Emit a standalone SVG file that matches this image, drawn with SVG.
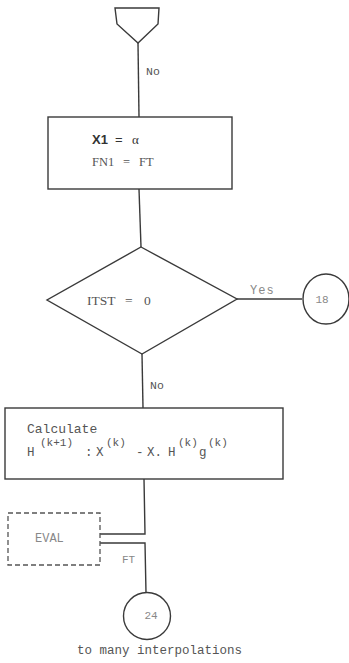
<svg xmlns="http://www.w3.org/2000/svg" width="349" height="663" viewBox="0 0 349 663">
<style>
.s{fill:none;stroke:#3a3a3a;stroke-width:1.4}
.d{fill:none;stroke:#555;stroke-width:1.3;stroke-dasharray:5,3}
.m{font-family:"Liberation Mono",monospace;fill:#555}
.sf{font-family:"Liberation Serif",serif;fill:#555}
.ss{font-family:"Liberation Sans",sans-serif;fill:#333}
.g{fill:#888}
.sup{font-size:11px}
</style>
<rect width="349" height="663" fill="#fff"/>
<g id="connectors">
<line class="s" x1="138" y1="43" x2="139" y2="117"/>
<line class="s" x1="139" y1="189" x2="141" y2="247"/>
<line class="s" x1="237" y1="299" x2="302" y2="299"/>
<line class="s" x1="142" y1="354" x2="143" y2="408"/>
<polyline class="s" points="144,479 145,534 100,534"/>
<polyline class="s" points="100,543 145,543 146,593"/>
<text class="m" x="146" y="75" font-size="11.5">No</text>
<text class="m" x="150" y="389" font-size="11.5">No</text>
<text class="m g" x="250" y="294" font-size="12" letter-spacing="1">Yes</text>
<text class="m g" x="122" y="563" font-size="11">FT</text>
</g>
<g id="start">
<polygon class="s" points="115,8 159,8 158,24 138,43 117,24"/>
</g>
<g id="init">
<rect class="s" x="48" y="117" width="184" height="72"/>
<text class="ss" y="144" font-size="13"><tspan x="92" font-weight="bold">X1</tspan><tspan x="115">=</tspan><tspan x="132" font-family="Liberation Serif">α</tspan></text>
<text class="sf" y="166" font-size="12.5"><tspan x="92">FN1</tspan><tspan x="123">=</tspan><tspan x="139">FT</tspan></text>
</g>
<g id="test">
<polygon class="s" points="141,247 237,299 142,354 47,300"/>
<text class="sf" y="305" font-size="13.5"><tspan x="87">ITST</tspan><tspan x="125">=</tspan><tspan x="144">0</tspan></text>
</g>
<g id="c18">
<ellipse class="s" cx="326" cy="299" rx="23" ry="25"/>
<text class="m g" x="322" y="303" font-size="11" text-anchor="middle">18</text>
</g>
<g id="calc">
<rect class="s" x="5" y="408" width="278" height="71"/>
<text class="m" x="27" y="433" font-size="13">Calculate</text>
<text class="m" font-size="12.5"><tspan x="27" y="456">H</tspan><tspan class="sup" x="40" y="446">(k+1)</tspan><tspan x="85" y="456">:</tspan><tspan x="96" y="456">X</tspan><tspan class="sup" x="106" y="446">(k)</tspan><tspan x="136" y="456">-</tspan><tspan x="147" y="456">X.</tspan><tspan x="168" y="456">H</tspan><tspan class="sup" x="178" y="446">(k)</tspan><tspan x="199" y="456">g</tspan><tspan class="sup" x="208" y="446">(k)</tspan></text>
</g>
<g id="eval">
<rect class="d" x="8" y="513" width="92" height="52"/>
<text class="m g" x="35" y="542" font-size="12">EVAL</text>
</g>
<g id="c24">
<circle class="s" cx="147" cy="616" r="23.5"/>
<text class="m g" x="151" y="619" font-size="11" text-anchor="middle">24</text>
<text class="m" x="77" y="654" font-size="12.5">to many interpolations</text>
</g>
</svg>
